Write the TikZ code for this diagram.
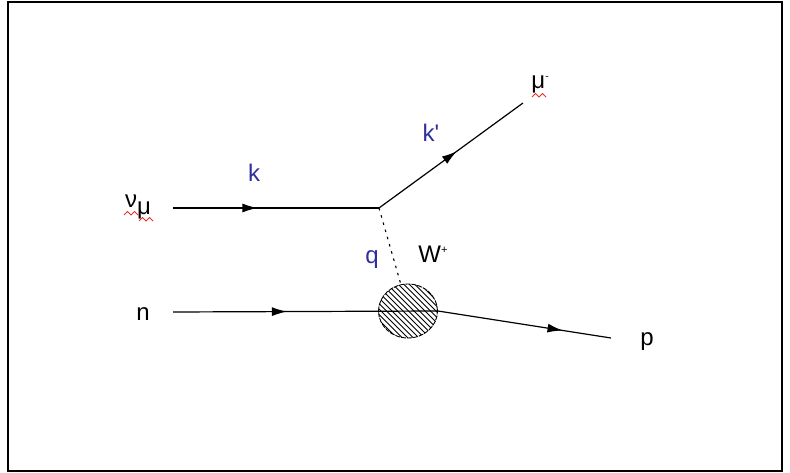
\documentclass[tikz,border=0pt]{standalone}
\usepackage{fontspec}
\setmainfont{Liberation Sans}
\usetikzlibrary{arrows.meta,decorations.markings,shapes.geometric}
\definecolor{momblue}{HTML}{2E2E9C}
\definecolor{spellred}{HTML}{E8302A}
\tikzset{every node/.append style={font=\fontsize{24}{28}\selectfont,inner sep=0pt}}
\tikzset{
  fermion/.style={line width=1.2pt,postaction={decorate},
    decoration={markings,mark=at position #1 with {\arrow{Latex[length=15pt,width=9pt]}}}},
  fermion/.default=.5,
  boson/.style={line width=1.1pt,dash pattern=on 2.5pt off 5pt},
  mom/.style={momblue,anchor=base},
  lab/.style={black,anchor=base},
  spell/.style={spellred,line width=.9pt}
}
\newcommand{\spellmark}[2]{\draw[spell] (#1,#2) -- ++(3.5,3.5) -- ++(3.5,-3.5) -- ++(3.5,3.5) -- ++(3.5,-3.5);}

\begin{document}
\begin{tikzpicture}[x=1pt,y=1pt]
\useasboundingbox (0,0) rectangle (790,-473);
\draw[line width=2pt] (8,-2) rectangle (782,-471);
\coordinate (nuin) at (173,-208); \coordinate (vtx) at (379,-208);
\coordinate (muout) at (523,-103);
\coordinate (nin) at (173,-312); \coordinate (pout) at (611,-338);
\node[draw,ellipse,minimum width=59pt,minimum height=54pt,line width=.9pt,
  dash pattern=on 5pt off 1pt] (blob) at (408,-311) {};
\begin{scope}
\clip (408,-311) ellipse (29.5 and 27);
\foreach \s in {-60,-54.5,...,60}
  \draw[line width=.8pt] (408+\s-30,-281) -- (408+\s+30,-341);
\end{scope}
\draw[fermion=.41] (nuin)--(vtx);
\draw[fermion=.54] (vtx)--(muout);
\draw[boson] (vtx)--(blob.105);
\draw[fermion=.43] (nin)--(blob.east);
\draw[fermion=.72] (blob.east)--(pout);
\node[lab] (nulab) at (138,-208) {ν\raisebox{-6pt}{μ}};
\node[lab] (mulab) at (540,-89) {μ\raisebox{9pt}{\fontsize{10}{10}\selectfont -}};
\node[lab] (nlab) at (143,-320) {n};
\node[lab] (plab) at (647,-345) {p};
\node[lab] (wlab) at (433,-262) {W\raisebox{9pt}{\fontsize{11}{11}\selectfont +}};
\node[mom] (klab) at (254,-182) {k};
\node[mom] (kplab) at (431,-142) {k\textquotesingle};
\node[mom] (qlab) at (372,-264) {q};
\spellmark{124}{-215}
\spellmark{139}{-221}
\spellmark{532}{-97}
\end{tikzpicture}
\end{document}
